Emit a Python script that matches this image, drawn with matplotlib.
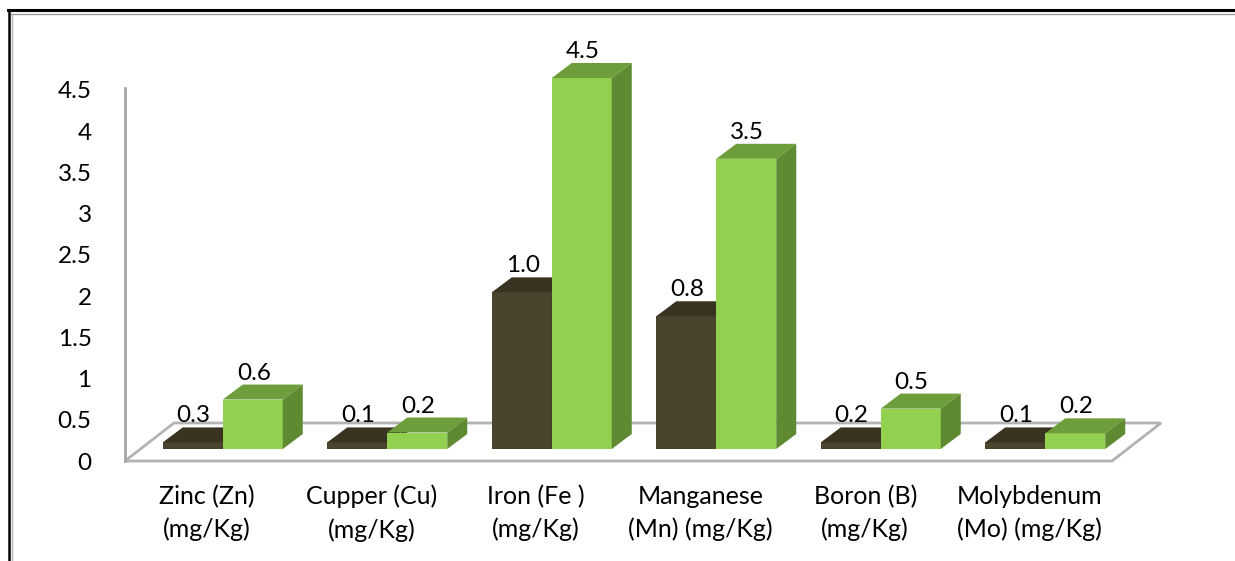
import matplotlib.pyplot as plt
from matplotlib.patches import Polygon
from matplotlib.lines import Line2D

plt.rcParams['font.family'] = ['Lato', 'DejaVu Sans']

categories = ["Zinc (Zn)\n(mg/Kg)", "Cupper (Cu)\n(mg/Kg)", "Iron (Fe )\n(mg/Kg)",
              "Manganese\n(Mn) (mg/Kg)", "Boron (B)\n(mg/Kg)", "Molybdenum\n(Mo) (mg/Kg)"]
dark_values = [0.08, 0.08, 1.90, 1.61, 0.08, 0.08]
green_values = [0.60, 0.20, 4.50, 3.52, 0.49, 0.19]
dark_labels = ["0.3", "0.1", "1.0", "0.8", "0.2", "0.1"]
green_labels = ["0.6", "0.2", "4.5", "3.5", "0.5", "0.2"]
yticks = [0, 0.5, 1, 1.5, 2, 2.5, 3, 3.5, 4, 4.5]
ytick_labels = ["0", "0.5", "1", "1.5", "2", "2.5", "3", "3.5", "4", "4.5"]

W, H = 1235, 561
fig = plt.figure(figsize=(W / 100, H / 100), dpi=100)
ax_l, ax_r, ax_b, ax_t = 125, 1112, H - 461, H - 90
ax = fig.add_axes([ax_l / W, ax_b / H, (ax_r - ax_l) / W, (ax_t - ax_b) / H])
ax.set_xlim(-0.5, len(categories) - 0.5)
ax.set_ylim(0, 4.5)

# pixel -> data conversion
px_x = len(categories) / (ax_r - ax_l)
px_y = 4.5 / (ax_t - ax_b)

front_dark = "#4a432d"
top_dark = "#3a3322"
front_green = "#92d050"
top_green = "#6e9e3b"
side_green = "#5f8a31"
grid_gray = "#b3b3b3"

# floor
fx, fy = 49 * px_x, 38 * px_y
x0, x1 = -0.5, len(categories) - 0.5
ax.add_patch(Polygon([(x0, 0), (x1, 0), (x1 + fx, fy), (x0 + fx, fy)], closed=True,
                     facecolor="white", edgecolor=grid_gray, lw=2, clip_on=False, zorder=1))
ax.plot([x0, x0], [0, 4.52], color="#a6a6a6", lw=2, clip_on=False, zorder=1)

# bars
bw = 60 * px_x
ox, oy = 15.5 * px_x, 12 * px_y
dx, dy = 20 * px_x, 15 * px_y


def draw_bar(left, value, front, top, side, label, z):
    l = left + ox
    r = l + bw
    b = oy
    t = oy + value
    ax.add_patch(Polygon([(l, b), (r, b), (r, t), (l, t)], closed=True,
                         facecolor=front, edgecolor="none", clip_on=False, zorder=z))
    ax.add_patch(Polygon([(l, t), (r, t), (r + dx, t + dy), (l + dx, t + dy)], closed=True,
                         facecolor=top, edgecolor="none", clip_on=False, zorder=z))
    ax.add_patch(Polygon([(r, b), (r + dx, b + dy), (r + dx, t + dy), (r, t)], closed=True,
                         facecolor=side, edgecolor="none", clip_on=False, zorder=z))
    ax.text((l + r) / 2 + 1 * px_x, t + dy + 1 * px_y, label, ha="center", va="bottom",
            fontsize=17.5, color="black", zorder=10, clip_on=False)


for i in range(len(categories)):
    draw_bar(i - bw, dark_values[i], front_dark, top_dark, top_dark, dark_labels[i], 2 + i)
    draw_bar(i, green_values[i], front_green, top_green, side_green, green_labels[i], 2.5 + i)

ax.set_xticks(range(len(categories)))
ax.set_xticklabels(categories, fontsize=18, linespacing=1.5)
ax.set_yticks(yticks)
ax.set_yticklabels(ytick_labels, fontsize=17.5)
ax.tick_params(axis="x", length=0, pad=17)
ax.tick_params(axis="y", length=0, pad=24)
for s in ax.spines.values():
    s.set_visible(False)
ax.patch.set_alpha(0)

# outer frame
fig.add_artist(Line2D([8 / W, 1], [1 - 10 / H, 1 - 10 / H], color="black", lw=2.2))
fig.add_artist(Line2D([11 / W, 1], [1 - 14 / H, 1 - 14 / H], color="#9a9a9a", lw=1))
fig.add_artist(Line2D([9 / W, 9 / W], [0, 1 - 10 / H], color="black", lw=1.8))
fig.add_artist(Line2D([12 / W, 12 / W], [0, 1 - 14 / H], color="#b0b0b0", lw=1))

fig.savefig("out.png", dpi=100)
